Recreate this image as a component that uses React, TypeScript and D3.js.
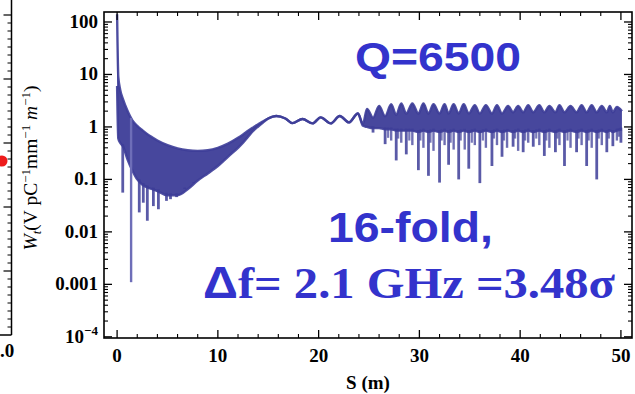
import React from "react";
import * as d3 from "d3";

const W = 635;
const H = 394;

// axis ticks
const xTickValues = [0, 10, 20, 30, 40, 50];
const xTickLabels = ["0", "10", "20", "30", "40", "50"];
const yTickValues = [1e-4, 1e-3, 1e-2, 0.1, 1, 10, 100];
const yTickLabels = ["10^-4", "0.001", "0.01", "0.1", "1", "10", "100"];

// envelope of the wake (upper / lower edge of the dense oscillation band)
const envS = [
  0, 0.12, 0.3, 0.6, 1.0, 1.5, 2.0, 2.5, 3.0, 3.5, 4.0, 5.0, 6.0, 7.0, 8.0, 9.0, 10.0, 11.0, 12.0, 12.5,
  13.0, 13.5, 14.0, 14.5, 15.0, 15.8, 16.7, 17.4, 18.4, 19.4, 20.2, 21.2, 22.1, 23.0, 23.9, 24.4,
  24.8, 25.4, 26.0, 26.6, 27.2, 27.7, 28.2, 28.7, 29.3, 29.9, 30.4, 30.9, 31.4, 32.0, 32.5, 32.9,
  33.4, 33.9, 34.4, 34.9, 35.5, 36.0, 36.6, 37.2, 37.7, 38.2, 38.8, 39.3, 39.8, 40.3, 40.8, 41.3,
  41.9, 42.4, 42.9, 43.5, 43.9, 44.4, 45.0, 45.6, 46.1, 46.6, 47.1, 47.6, 48.1, 48.6, 48.9, 49.2,
  49.6, 50.1,
];
const envHi = [
  140, 9, 5.2, 3.3, 2.1, 1.35, 1.05, 0.87, 0.73, 0.63, 0.55, 0.45, 0.39, 0.36, 0.35, 0.36, 0.4, 0.48, 0.62, 0.72,
  0.85, 0.98, 1.12, 1.28, 1.45, 1.62, 1.45, 1.18, 1.42, 1.17, 1.52, 1.17, 1.62, 1.22, 1.8, 1.15,
  2.2, 1.5, 2.5, 1.6, 2.7, 1.7, 2.8, 1.8, 2.8, 1.8, 2.8, 1.8, 2.7, 1.8, 2.7, 1.8,
  2.7, 1.8, 2.7, 1.8, 2.6, 1.8, 2.6, 1.8, 2.6, 1.8, 2.5, 1.9, 2.5, 1.9, 2.6, 1.9,
  2.6, 1.9, 2.5, 1.9, 2.6, 1.9, 2.5, 1.9, 2.6, 1.9, 2.6, 1.9, 2.5, 1.9, 2.5, 1.9,
  2.4, 2.0,
];
const envLo = [
  6, 0.6, 0.5, 0.42, 0.25, 0.15, 0.1, 0.08, 0.07, 0.065, 0.06, 0.05, 0.05, 0.065, 0.095, 0.13, 0.18, 0.27, 0.4, 0.5,
  0.65, 0.84, 1.02, 1.22, 1.45, 1.62, 1.45, 1.18, 1.42, 1.17, 1.52, 1.17, 1.62, 1.22, 1.8, 1.05,
  1.0, 0.95, 0.95, 0.9, 0.9, 0.85, 0.85, 0.85, 0.85, 0.8, 0.85, 0.8, 0.85, 0.8, 0.85, 0.8,
  0.85, 0.8, 0.85, 0.8, 0.85, 0.8, 0.85, 0.8, 0.85, 0.8, 0.85, 0.8, 0.85, 0.8, 0.85, 0.8,
  0.85, 0.8, 0.85, 0.8, 0.85, 0.8, 0.85, 0.8, 0.85, 0.8, 0.85, 0.8, 0.85, 0.8, 0.85, 0.8,
  0.85, 0.9,
];

// deep downward spikes
const spikeS = [
  0.56, 2.2, 2.6, 3.0, 3.6, 4.1, 4.9, 5.3, 5.9, 6.7, 7.6,
  25.4, 26.6, 27.7, 28.7, 29.9, 30.9, 32.0, 32.9, 33.9, 34.9, 36.0, 37.2, 38.2, 39.3, 40.3,
  41.3, 42.4, 43.5, 44.4, 45.6, 46.6, 47.6, 48.6, 49.2, 50.0,
];
const spikeMin = [
  0.056, 0.0235, 0.036, 0.0163, 0.031, 0.027, 0.039, 0.042, 0.046, 0.07, 0.085,
  0.78, 0.47, 0.23, 0.3, 0.15, 0.117, 0.087, 0.19, 0.1, 0.16, 0.085, 0.18, 0.27, 0.42, 0.33,
  0.42, 0.28, 0.33, 0.18, 0.33, 0.18, 0.1, 0.33, 0.43, 0.5,
];
// the single very deep spike near the start
const deepSpikeS = [1.39];
const deepSpikeMin = [0.0011];

// medium dips in the beating region
const minorS = [
  27.2, 28.2, 29.3, 30.4, 31.4, 32.5, 33.4, 34.5, 35.5, 36.6, 37.7, 38.7, 39.8, 40.8, 41.9,
  42.9, 43.9, 45.0, 46.1, 47.1, 48.1, 49.6,
];
const minorMin = [
  0.55, 0.5, 0.45, 0.4, 0.35, 0.45, 0.37, 0.37, 0.45, 0.4, 0.45, 0.4, 0.35, 0.5, 0.45,
  0.4, 0.45, 0.4, 0.45, 0.4, 0.45, 0.55,
];
// shallow dips just below the band
const smallS = [
  26.9, 27.9, 29.0, 30.1, 31.1, 32.2, 33.1, 34.1, 35.2, 36.3, 37.4, 38.4, 39.5, 40.5, 41.6,
  42.6, 43.7, 44.7, 45.8, 46.8, 47.8, 48.8, 49.8,
];
const smallMin = [
  0.62, 0.6, 0.55, 0.55, 0.5, 0.55, 0.5, 0.55, 0.5, 0.55, 0.6, 0.55, 0.6, 0.55, 0.6,
  0.55, 0.6, 0.55, 0.6, 0.55, 0.6, 0.6, 0.65,
];

const DATA = "#3d3d98";
const NOTE = "#3333cc";
const SERIF = "'Liberation Serif', 'Times New Roman', serif";
const SANS = "'Liberation Sans', Arial, sans-serif";

function interpLog(s: number, xs: number[], vs: number[]) {
  const i = d3.bisectLeft(xs, s);
  if (i <= 0) return vs[0];
  if (i >= xs.length) return vs[vs.length - 1];
  const t = (s - xs[i - 1]) / (xs[i] - xs[i - 1]);
  return Math.exp(Math.log(vs[i - 1]) * (1 - t) + Math.log(vs[i]) * t);
}

export default function App() {
  const left = 104, right = 632, top = 12, bottom = 338;
  const x = d3.scaleLinear().domain([-1.3, 51.1]).range([left, right]);
  const y = d3.scaleLog().domain([9.5e-5, 155]).range([bottom, top]);

  const idx = envS.map((_, i) => i);
  const area = d3
    .area<number>()
    .x((i) => x(envS[i]))
    .y0((i) => y(envLo[i]))
    .y1((i) => y(envHi[i]))
    .curve(d3.curveMonotoneX);
  const hiLine = d3
    .line<number>()
    .x((i) => x(envS[i]))
    .y((i) => y(envHi[i]))
    .curve(d3.curveMonotoneX);
  const loLine = d3
    .line<number>()
    .x((i) => x(envS[i]))
    .y((i) => y(envLo[i]))
    .curve(d3.curveMonotoneX);

  const yMinor: number[] = [];
  for (let e = -4; e <= 2; e++) {
    for (let k = 2; k <= 9; k++) {
      const v = k * Math.pow(10, e);
      if (v <= 155) yMinor.push(v);
    }
  }
  const xMinor = d3.range(0, 52, 2).filter((v) => v % 10 !== 0);

  const majLen = 8, minLen = 4;

  const lpMajor = [15, 79, 143, 207, 271];
  const lpMinor: number[] = [];
  lpMajor.forEach((m) => {
    for (let k = 1; k < 8; k++) lpMinor.push(m + k * 8);
  });

  const dip = (s: number, v: number, key: string, w: number, op: number) => (
    <line
      key={key}
      x1={x(s)}
      x2={x(s)}
      y1={y(interpLog(s, envS, envLo)) - 2}
      y2={y(v)}
      stroke={DATA}
      strokeWidth={w}
      strokeOpacity={op}
    />
  );

  return (
    <svg
      width={W}
      height={H}
      viewBox={`0 0 ${W} ${H}`}
      style={{ position: "absolute", left: 0, top: 0, background: "#fff" }}
    >
      <defs>
        <clipPath id="plotClip">
          <rect x={left} y={top} width={right - left} height={bottom - top} />
        </clipPath>
      </defs>
      <rect x={0} y={0} width={W} height={H} fill="#fff" />

      {/* partial left panel */}
      <line x1={11.5} y1={0} x2={11.5} y2={335} stroke="#000" strokeWidth={1.5} />
      <line x1={0} y1={335} x2={11.5} y2={335} stroke="#000" strokeWidth={1.5} />
      {lpMajor.map((t) => (
        <line key={"lpM" + t} x1={11.5} y1={t} x2={3.5} y2={t} stroke="#000" strokeWidth={1.2} />
      ))}
      {lpMinor.map((t) => (
        <line key={"lpm" + t} x1={11.5} y1={t} x2={7.5} y2={t} stroke="#000" strokeWidth={1} />
      ))}
      <circle cx={2} cy={161} r={5.5} fill="#ee1c1c" />
      <text x={0} y={357} textAnchor="start" fontFamily={SERIF} fontWeight="bold" fontSize={19} fill="#000">
        .0
      </text>

      {/* data */}
      <g clipPath="url(#plotClip)">
        <path d={area(idx) || ""} fill={DATA} fillOpacity={0.95} />
        <path d={hiLine(idx) || ""} fill="none" stroke={DATA} strokeWidth={2.4} strokeOpacity={0.9} />
        <path d={loLine(idx) || ""} fill="none" stroke={DATA} strokeWidth={2.4} strokeOpacity={0.9} />
        {smallS.map((s, i) => dip(s, smallMin[i], "sm" + i, 2.2, 0.7))}
        {minorS.map((s, i) => dip(s, minorMin[i], "mi" + i, 2.4, 0.75))}
        {spikeS.map((s, i) => dip(s, spikeMin[i], "sp" + i, 2.8, 0.85))}
        {deepSpikeS.map((s, i) => (
          <line
            key={"dp" + i}
            x1={x(s)}
            x2={x(s)}
            y1={y(interpLog(s, envS, envHi))}
            y2={y(deepSpikeMin[i])}
            stroke="#6e6eb8"
            strokeWidth={2.4}
          />
        ))}
      </g>

      {/* frame */}
      <rect x={left} y={top} width={right - left} height={bottom - top} fill="none" stroke="#000" strokeWidth={1.6} />

      {/* y ticks */}
      {yTickValues.map((v) => (
        <g key={"yt" + v}>
          <line x1={left} x2={left + majLen} y1={y(v)} y2={y(v)} stroke="#000" strokeWidth={1.3} />
          <line x1={right} x2={right - majLen} y1={y(v)} y2={y(v)} stroke="#000" strokeWidth={1.3} />
        </g>
      ))}
      {yMinor.map((v) => (
        <g key={"ym" + v}>
          <line x1={left} x2={left + minLen} y1={y(v)} y2={y(v)} stroke="#000" strokeWidth={1.1} />
          <line x1={right} x2={right - minLen} y1={y(v)} y2={y(v)} stroke="#000" strokeWidth={1.1} />
        </g>
      ))}
      {yTickValues.map((v, i) => {
        const lab = yTickLabels[i];
        if (lab.startsWith("10^")) {
          return (
            <text key={"yl" + v} x={98} y={y(v) + 6} textAnchor="end" fontFamily={SERIF} fontWeight="bold" fontSize={19} fill="#000">
              10
              <tspan fontSize={13} dy={-8}>
                {"\u2212" + lab.slice(4)}
              </tspan>
            </text>
          );
        }
        return (
          <text key={"yl" + v} x={98} y={y(v) + 6} textAnchor="end" fontFamily={SERIF} fontWeight="bold" fontSize={19} fill="#000">
            {lab}
          </text>
        );
      })}

      {/* x ticks */}
      {xTickValues.map((v, i) => (
        <g key={"xt" + v}>
          <line x1={x(v)} x2={x(v)} y1={bottom} y2={bottom - majLen} stroke="#000" strokeWidth={1.3} />
          <line x1={x(v)} x2={x(v)} y1={top} y2={top + majLen} stroke="#000" strokeWidth={1.3} />
          <text x={x(v)} y={362} textAnchor="middle" fontFamily={SERIF} fontWeight="bold" fontSize={19} fill="#000">
            {xTickLabels[i]}
          </text>
        </g>
      ))}
      {xMinor.map((v) => (
        <g key={"xm" + v}>
          <line x1={x(v)} x2={x(v)} y1={bottom} y2={bottom - minLen} stroke="#000" strokeWidth={1.1} />
          <line x1={x(v)} x2={x(v)} y1={top} y2={top + minLen} stroke="#000" strokeWidth={1.1} />
        </g>
      ))}

      {/* axis titles */}
      <text x={368} y={389} textAnchor="middle" fontFamily={SERIF} fontWeight="bold" fontSize={19} fill="#000">
        S (m)
      </text>
      <g transform="translate(37,168) rotate(-90)">
        <text x={0} y={0} textAnchor="middle" fontFamily={SERIF} fontSize={19.5} fill="#000">
          <tspan fontStyle="italic">W</tspan>
          <tspan fontStyle="italic" fontSize={13} dy={4}>t</tspan>
          <tspan dy={-4}>(V pC</tspan>
          <tspan fontSize={13} dy={-7}>{"\u22121"}</tspan>
          <tspan dy={7}>mm</tspan>
          <tspan fontSize={13} dy={-7}>{"\u22121"}</tspan>
          <tspan dy={7} fontStyle="italic"> m</tspan>
          <tspan fontSize={13} dy={-7}>{"\u22121"}</tspan>
          <tspan dy={7}>)</tspan>
        </text>
      </g>

      {/* annotations */}
      <text x={355} y={71} fontFamily={SANS} fontWeight="bold" fontSize={41} fill={NOTE} textLength={166} lengthAdjust="spacingAndGlyphs">
        Q=6500
      </text>
      <text x={328} y={241.5} fontFamily={SANS} fontWeight="bold" fontSize={42} fill={NOTE} textLength={165} lengthAdjust="spacingAndGlyphs">
        16-fold,
      </text>
      <text x={203} y={298} fontFamily={SERIF} fontWeight="bold" fontSize={45} fill={NOTE} textLength={412} lengthAdjust="spacingAndGlyphs">
        <tspan fontFamily={SANS}>Δ</tspan>f= 2.1 GHz =3.48σ
      </text>
    </svg>
  );
}
